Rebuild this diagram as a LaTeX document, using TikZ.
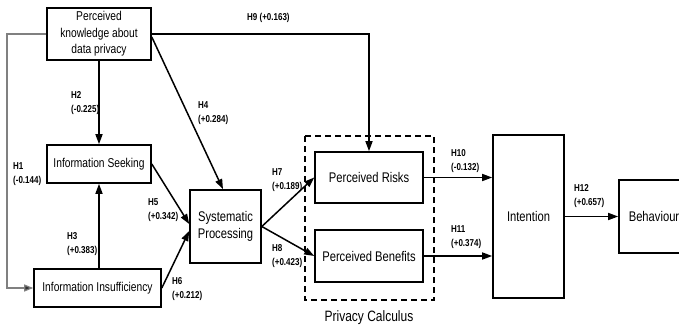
\documentclass[tikz,border=0pt]{standalone}
\usepackage{fontspec}
\setmainfont{Liberation Sans}[FakeStretch=0.8]
\usetikzlibrary{arrows.meta,calc}
\newcommand\lblfont{\bfseries\fontsize{10}{14}\selectfont}
\newcommand\smallboxfont{\fontsize{12.8}{16.5}\selectfont}
\newcommand\bigboxfont{\fontsize{14}{17.5}\selectfont}
\tikzset{
  box/.style={draw, line width=1.6pt, inner sep=0pt, align=center},
  sbox/.style={box, font=\smallboxfont},
  bbox/.style={box, font=\bigboxfont},
  arr/.style={line width=1.5pt, -{Triangle[length=10pt,width=7pt]}},
  garr/.style={line width=1.2pt, draw=black!50, -{Triangle[length=9pt,width=7pt,fill=black!80]}},
  lbl/.style={anchor=west, inner sep=0pt, align=left, font=\lblfont},
}
\begin{document}
\begin{tikzpicture}[x=1pt,y=-1pt]
\useasboundingbox (0,0) rectangle (679,329);
\clip (0,0) rectangle (679,329);
\fill[white] (0,0) rectangle (679,329);

% boxes
\node[sbox, minimum width=104pt, minimum height=52pt] (PK) at (99,34) {Perceived\\knowledge about\\data privacy};
\node[sbox, minimum width=104pt, minimum height=38pt] (IS) at (99,164) {Information Seeking};
\node[sbox, minimum width=127pt, minimum height=38pt] (II) at (97.5,288) {Information Insufficiency};
\node[bbox, minimum width=71pt, minimum height=73pt] (SP) at (225.5,226.5) {Systematic\\Processing};
\node[bbox, minimum width=108pt, minimum height=51pt] (PR) at (369,177.5) {Perceived Risks};
\node[bbox, minimum width=108pt, minimum height=52pt] (PB) at (369,256) {Perceived Benefits};
\node[bbox, minimum width=71pt, minimum height=163pt] (IN) at (528.5,216.5) {Intention};
\node[bbox, minimum width=70pt, minimum height=73pt] (BE) at (654,216.5) {Behaviour};

% dashed privacy calculus frame
\draw[line width=1.6pt, dash pattern=on 6pt off 4pt] (305,136) rectangle (434,300);
\node[font=\fontsize{15}{17}\selectfont, inner sep=0pt] (PC) at (369,318) {Privacy Calculus};

% connectors
\coordinate (H1a) at (7,34);
\draw[garr] (PK.west) -- (H1a) |- (II.west);
\draw[arr] (PK.south) -- (IS.north);
\draw[arr] (IS.south |- II.north) -- (IS.south);
\draw[arr] ($(PK.east)+(0,3)$) -- ($(SP.north)+(-2.5,0)$);
\draw[arr] (PK.east) -| (PR.north);
\draw[arr] (IS.east) -- ($(SP.west)+(0,-2.5)$);
\draw[arr] (II.east) -- ($(SP.west)+(0,4.5)$);
\draw[arr] (SP.east) -- (PR.west);
\draw[arr] (SP.east) -- (PB.west);
\draw[arr] (PR.east) -- (IN.west |- PR.east);
\draw[arr] (PB.east) -- (IN.west |- PB.east);
\draw[arr] (IN.east) -- (BE.west);

% labels
\node[lbl] (L9) at (247,18) {H9 (+0.163)};
\node[lbl] (L2) at (71,103) {H2\\(-0.225)};
\node[lbl] (L4) at (198,113) {H4\\(+0.284)};
\node[lbl] (L1) at (13,174) {H1\\(-0.144)};
\node[lbl] (L3) at (67,244) {H3\\(+0.383)};
\node[lbl] (L5) at (148,210) {H5\\(+0.342)};
\node[lbl] (L6) at (172,289) {H6\\(+0.212)};
\node[lbl] (L7) at (272,180) {H7\\(+0.189)};
\node[lbl] (L8) at (272,256) {H8\\(+0.423)};
\node[lbl] (L10) at (451,161.5) {H10\\(-0.132)};
\node[lbl] (L11) at (451,237) {H11\\(+0.374)};
\node[lbl] (L12) at (574,196.5) {H12\\(+0.657)};
\end{tikzpicture}
\end{document}
